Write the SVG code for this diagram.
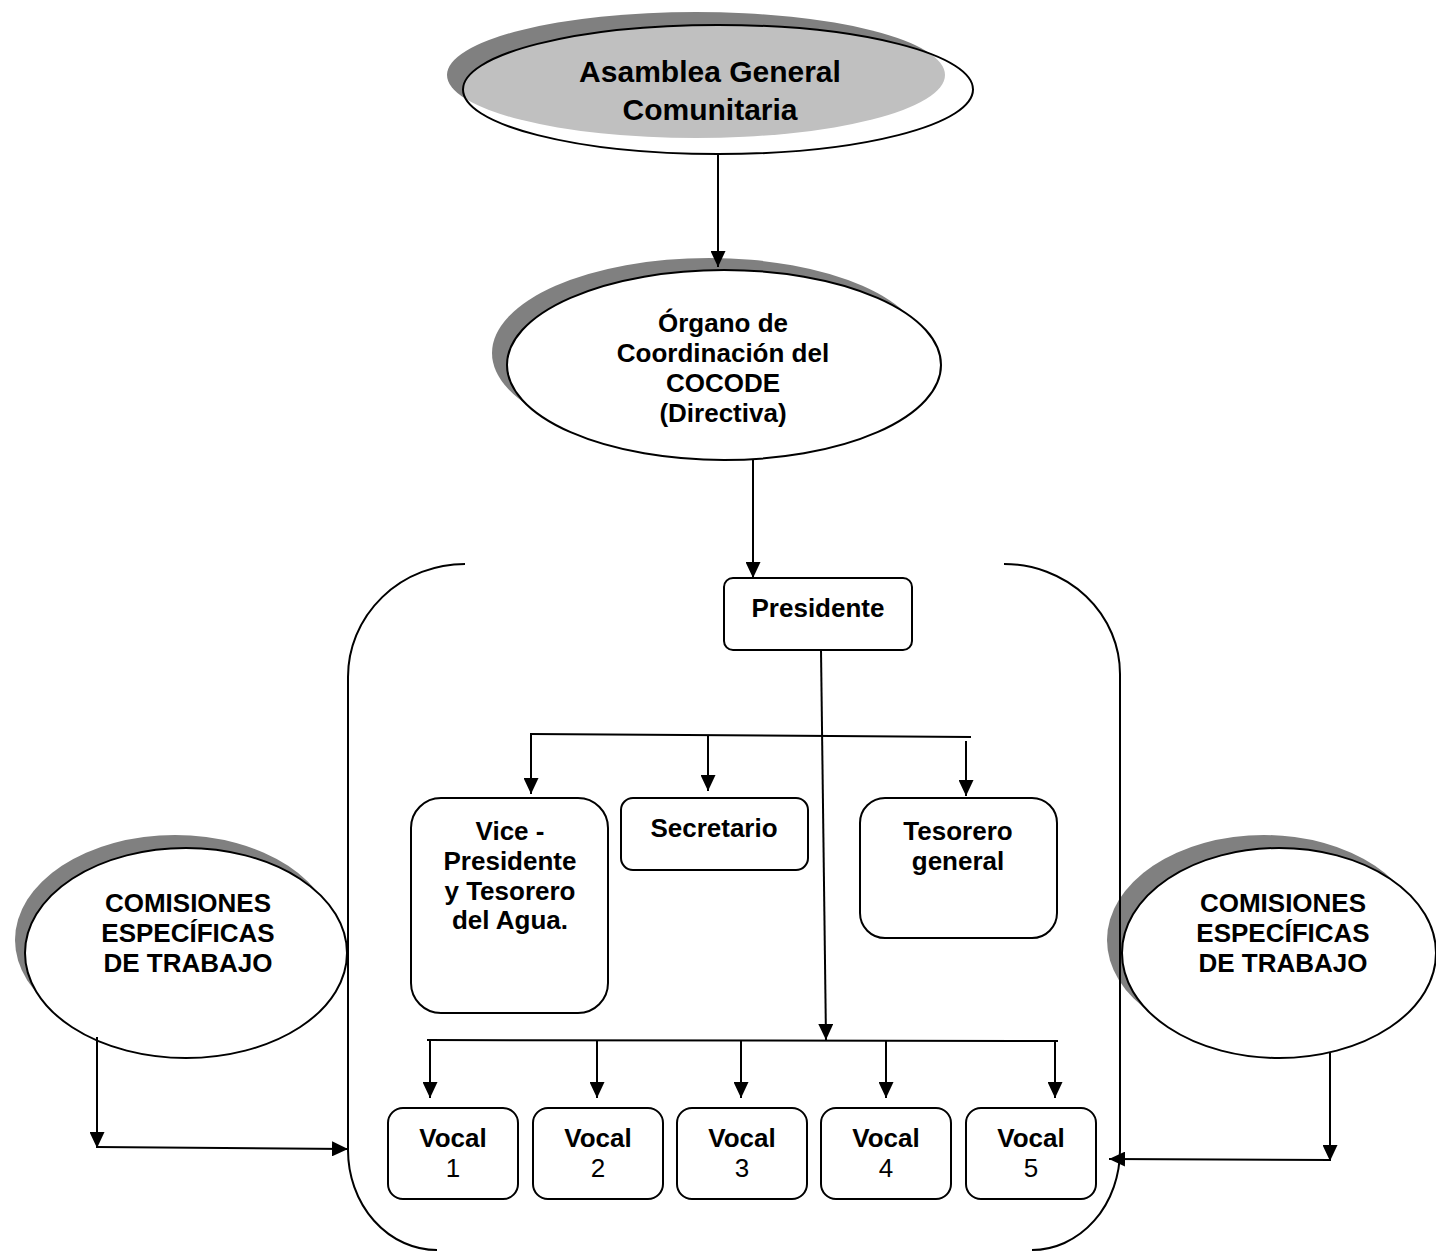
<svg xmlns="http://www.w3.org/2000/svg" width="1436" height="1253" viewBox="0 0 1436 1253">
<style>
.t{font-family:"Liberation Sans",Arial,sans-serif;font-weight:bold;font-size:26px;fill:#000;text-anchor:middle}
.n{font-family:"Liberation Sans",Arial,sans-serif;font-weight:normal;font-size:26px;fill:#000;text-anchor:middle}
.big{font-size:30px}
.box{fill:#fff;stroke:#000;stroke-width:2}
.ol{fill:#fff;stroke:#000;stroke-width:2}
.sh{fill:#808080}
.ln{fill:none;stroke:#000;stroke-width:2}
.ar{fill:none;stroke:#000;stroke-width:2;marker-end:url(#ah)}
</style>
<defs>
<marker id="ah" viewBox="0 0 16 15" refX="16" refY="7.5" markerUnits="userSpaceOnUse" markerWidth="16" markerHeight="15" orient="auto">
<path d="M0,0 L16,7.5 L0,15 z" fill="#000"/>
</marker>
<clipPath id="clipTop"><ellipse cx="718" cy="89.5" rx="255" ry="64.5"/></clipPath>
</defs>
<rect width="1436" height="1253" fill="#fff"/>

<g id="asamblea">
<ellipse class="sh" cx="696" cy="75" rx="249" ry="63"/>
<ellipse cx="718" cy="89.5" rx="255" ry="64.5" fill="#fff"/>
<ellipse cx="696" cy="75" rx="249" ry="63" fill="#c0c0c0" clip-path="url(#clipTop)"/>
<ellipse cx="718" cy="89.5" rx="255" ry="64.5" fill="none" stroke="#000" stroke-width="2"/>
<text class="t big" x="710" y="82">Asamblea General</text>
<text class="t big" x="710" y="120">Comunitaria</text>
</g>

<g id="organo">
<ellipse class="sh" cx="709" cy="353" rx="217" ry="95"/>
<ellipse class="ol" cx="724" cy="365" rx="217" ry="95"/>
<text class="t" x="723" y="332">Órgano de</text>
<text class="t" x="723" y="362">Coordinación del</text>
<text class="t" x="723" y="392">COCODE</text>
<text class="t" x="723" y="422">(Directiva)</text>
</g>

<g id="comisiones-izq">
<ellipse class="sh" cx="175" cy="940" rx="160" ry="105"/>
<ellipse class="ol" cx="186" cy="953" rx="161" ry="105"/>
<text class="t" x="188" y="912">COMISIONES</text>
<text class="t" x="188" y="942">ESPECÍFICAS</text>
<text class="t" x="188" y="972">DE TRABAJO</text>
</g>

<g id="comisiones-der">
<ellipse class="sh" cx="1264" cy="940" rx="157" ry="105"/>
<ellipse class="ol" cx="1279" cy="953" rx="157" ry="105"/>
<text class="t" x="1283" y="912">COMISIONES</text>
<text class="t" x="1283" y="942">ESPECÍFICAS</text>
<text class="t" x="1283" y="972">DE TRABAJO</text>
</g>

<g id="marco">
<path class="ln" d="M465,564 A117,113 0 0 0 348,677 L348,1150 A89,100 0 0 0 437,1250"/>
<path class="ln" d="M1004,564 A116,110 0 0 1 1120,674 L1120,1150 A88,100 0 0 1 1032,1250"/>
</g>

<g id="presidente">
<rect class="box" x="724" y="578" width="188" height="72" rx="9"/>
<text class="t" x="818" y="617">Presidente</text>
</g>

<g id="vicepresidente">
<rect class="box" x="411" y="798" width="197" height="215" rx="30"/>
<text class="t" x="510" y="840">Vice -</text>
<text class="t" x="510" y="870">Presidente</text>
<text class="t" x="510" y="900">y Tesorero</text>
<text class="t" x="510" y="929">del Agua.</text>
</g>

<g id="secretario">
<rect class="box" x="621" y="798" width="187" height="72" rx="12"/>
<text class="t" x="714" y="837">Secretario</text>
</g>

<g id="tesorero">
<rect class="box" x="860" y="798" width="197" height="140" rx="25"/>
<text class="t" x="958" y="840">Tesorero</text>
<text class="t" x="958" y="870">general</text>
</g>

<g id="vocal1">
<rect class="box" x="388" y="1108" width="130" height="91" rx="15"/>
<text class="t" x="453" y="1147">Vocal</text>
<text class="n" x="453" y="1177">1</text>
</g>
<g id="vocal2">
<rect class="box" x="533" y="1108" width="130" height="91" rx="15"/>
<text class="t" x="598" y="1147">Vocal</text>
<text class="n" x="598" y="1177">2</text>
</g>
<g id="vocal3">
<rect class="box" x="677" y="1108" width="130" height="91" rx="15"/>
<text class="t" x="742" y="1147">Vocal</text>
<text class="n" x="742" y="1177">3</text>
</g>
<g id="vocal4">
<rect class="box" x="821" y="1108" width="130" height="91" rx="15"/>
<text class="t" x="886" y="1147">Vocal</text>
<text class="n" x="886" y="1177">4</text>
</g>
<g id="vocal5">
<rect class="box" x="966" y="1108" width="130" height="91" rx="15"/>
<text class="t" x="1031" y="1147">Vocal</text>
<text class="n" x="1031" y="1177">5</text>
</g>

<g id="connectors">
<line class="ar" x1="718" y1="154" x2="718" y2="267"/>
<line class="ar" x1="753" y1="460" x2="753" y2="578"/>
<line class="ar" x1="821" y1="650" x2="826" y2="1040"/>
<line class="ln" x1="530" y1="734" x2="971" y2="737"/>
<line class="ar" x1="531" y1="734" x2="531" y2="794"/>
<line class="ar" x1="708" y1="735" x2="708" y2="791"/>
<line class="ar" x1="966" y1="741" x2="966" y2="796"/>
<line class="ln" x1="427" y1="1040" x2="1058" y2="1041"/>
<line class="ar" x1="430" y1="1040" x2="430" y2="1098"/>
<line class="ar" x1="597" y1="1040" x2="597" y2="1098"/>
<line class="ar" x1="741" y1="1040" x2="741" y2="1098"/>
<line class="ar" x1="886" y1="1041" x2="886" y2="1098"/>
<line class="ar" x1="1055" y1="1041" x2="1055" y2="1098"/>
<line class="ar" x1="97" y1="1037" x2="97" y2="1148"/>
<line class="ar" x1="96" y1="1147" x2="348" y2="1149"/>
<line class="ar" x1="1330" y1="1053" x2="1330" y2="1161"/>
<line class="ar" x1="1331" y1="1160" x2="1109" y2="1159"/>
</g>
</svg>
